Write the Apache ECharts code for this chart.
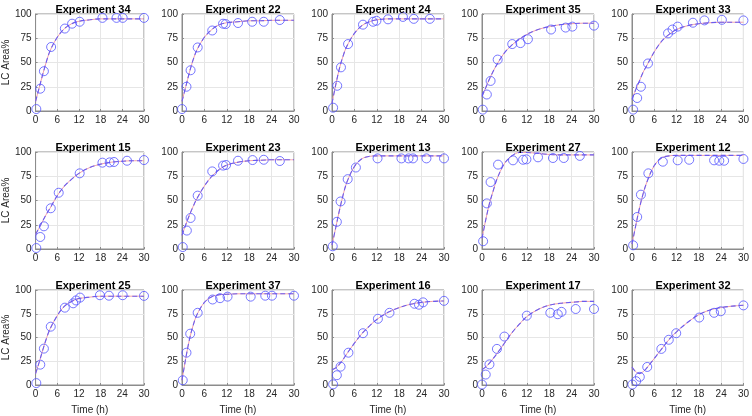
<!DOCTYPE html>
<html><head><meta charset="utf-8">
<script src="https://cdn.jsdelivr.net/npm/echarts@6/dist/echarts.min.js"></script>
<style>html,body{margin:0;padding:0;background:#fff}#c{width:752px;height:416px}</style>
</head><body><div id="c"></div>
<script>
// Experiment titles (row-major order)
const titles = ['Experiment 34','Experiment 22','Experiment 24','Experiment 35','Experiment 33',
                'Experiment 15','Experiment 23','Experiment 13','Experiment 27','Experiment 12',
                'Experiment 25','Experiment 37','Experiment 16','Experiment 17','Experiment 32'];
const xTicks = [0, 6, 12, 18, 24, 30];
const yTicks = [0, 25, 50, 75, 100];
// Times at which the fitted curves are read
const fitTimes = [0,1,2,3,4,6,8,10,12,15,18,21,24,27,30];

// Measured points (time h, LC area %) and fitted curves
const t34 = [0.2,1.3,2.3,4.3,8.1,10.1,12.2,18.5,22.4,24.1,30];
const v34 = [2,23,41,66,85,90,92,96,96,96,96];
const f34 = [10,24,38,51,62,76,85,90,92.5,94,95,95,95,95,95];

const t22 = [0,1.2,2.3,4.2,8.1,11,11.7,15,18.8,21.9,26.2];
const v22 = [2,25,42,65.5,83,90,89.6,90.7,92,92,93.8];
const f22 = [10,25,40,53,63,76,84,89,91,92,93,93,93.5,93.5,93.5];

const t24 = [0.3,1.4,2.4,4.3,8.3,11,11.9,15,19,21.9,26.2];
const v24 = [3.4,26,45,69,89,92,93,94.5,97,95,95];
const f24 = [8,27,44,57,67,80,88,92,94,95,95,95,95,95,95];

const t35 = [0.2,1.3,2.3,4.2,8.1,10.3,12.3,18.5,22.4,24.2,30];
const v35 = [1.4,17,31,53,69,70,74,84,86,87,88];
const f35 = [15,24,33,41,48,60,68,74,79,84,87,89,90,90.5,90.5];

const t33 = [0.3,1.4,2.4,4.3,9.7,10.9,12.3,16.4,19.5,24.2,30];
const v33 = [1.4,13.4,25,49,80,84,87,91,93.4,94,93.4];
const f33 = [12,22,31,40,47,61,72,79,84,88,90,91,91.5,91.5,91.5];

const t15 = [0.2,1.3,2.3,4.2,6.4,12.2,18.5,20.5,21.7,25.3,30];
const v15 = [1,12.4,23.4,42,58,78,89,89.3,89.7,91,91.7];
const f15 = [15,22,29,36,42,55,65,72,78,84,87.5,89.5,90.5,91,91];

const t23 = [0.2,1.3,2.3,4.2,8.1,11,11.8,15,18.9,21.9,26.2];
const v23 = [2,19,32,55,80,86,86.6,91,91.7,92,90.7];
const f23 = [14,25,35,44,52,65,75,82,86.5,89.5,91,91.5,92,92,92];

const t13 = [0.2,1.3,2.3,4.2,6.4,12.2,18.6,20.5,21.7,25.3,30];
const v13 = [2.8,28,49,72,84,93.4,93.4,93.4,93.4,93.4,93.4];
const f13 = [4,22,40,56,69,85,93,95.5,96,96,96,96,96,96,96];

const t27 = [0.3,1.3,2.3,4.3,8.3,11,11.9,15,19,21.9,26.2];
const v27 = [8,47,69,87,91.4,92,92.4,94.5,93.8,93.8,96];
const f27 = [11,30,47,60,72,88,96,99.5,99.5,98.5,97.5,97,97,97,97];

const t12 = [0.3,1.4,2.4,4.4,8.3,12.3,15.4,22.1,23.5,24.8,30];
const v12 = [3.8,33,56,78,90,91.4,92,91.4,91,91,92.8];
const f12 = [5,24,42,57,69,86,94,96,96.5,96.5,96.5,96.5,96.5,96.5,96.5];

const t25 = [0.2,1.3,2.3,4.2,8.1,10.4,11.2,12.3,17.8,20.3,24.1,30];
const v25 = [2,21.4,38.3,61.4,81.4,86,89,92,94.5,94,94.5,93.8];
const f25 = [12,24,37,49,59,73,83,88,91,92.5,93.5,93.5,93.5,93.5,93.5];

const t37 = [0.2,1.2,2.2,4.2,8.2,10.2,12.2,18.4,22.3,24.1,30];
const v37 = [5,34,54,76,90,91.4,93,93,94,94,94];
const f37 = [5,28,48,63,74,87,93,95,95.5,96,96,96,96,96,96];

const t16 = [0.3,1.3,2.3,4.4,8.3,12.3,15.4,22.1,23.3,24.4,30];
const v16 = [0.7,10.3,19.3,34,54.5,69.7,76,85.5,84.5,87,88.6];
const f16 = [16,18,22,27,33,44,54,62,69,76.5,81.5,85,87,88,88.5];

const t17 = [0,1,2,4,6,12,18.3,20.3,21.3,25.1,30];
const v17 = [0.5,11,21.7,38,51,73,76,74.5,77,80,80];
const f17 = [16,19,23,28,33,44,55,64,72,79.5,84,86,87,88,88];

const t32 = [0.1,1.1,2.1,4.1,7.9,9.9,11.9,18.1,22.1,23.9,30];
const v32 = [0.5,4,8.6,19,38,47.6,54.5,71,76,77.6,83.8];
const f32 = [19,14,12,14,18,28,38,48,56,66,74,79,81.5,83,84];

const T = [t34,t22,t24,t35,t33,t15,t23,t13,t27,t12,t25,t37,t16,t17,t32];
const V = [v34,v22,v24,v35,v33,v15,v23,v13,v27,v12,v25,v37,v16,v17,v32];
const F = [f34,f22,f24,f35,f33,f15,f23,f13,f27,f12,f25,f37,f16,f17,f32];

const FONT = '"Liberation Sans", Arial, sans-serif';
const grid = [], xAxis = [], yAxis = [], series = [], title = [];
for (let i = 0; i < 15; i++) {
  const r = Math.floor(i / 5), c = i % 5;
  const left = 32 + 150 * c, top = 14 + 138 * r, w = 112, h = 97;
  grid.push({left: left, top: top, width: w, height: h, show: true, borderColor: '#8c8c8c', borderWidth: 1, backgroundColor: '#fff'});
  title.push({text: titles[i], left: left + w / 2, top: top - 15, textAlign: 'center',
    textStyle: {fontFamily: '"Liberation Sans Narrow", ' + FONT, fontWeight: 'bold', fontSize: 11, color: '#000'}});
  xAxis.push({type: 'value', gridIndex: i, min: xTicks[0], max: xTicks[xTicks.length-1], interval: 6,
    name: r === 2 ? 'Time (h)' : '', nameLocation: 'middle', nameGap: 20,
    nameTextStyle: {fontFamily: FONT, fontSize: 10, color: '#262626'},
    axisLine: {show: true, lineStyle: {color: '#8c8c8c'}},
    axisTick: {show: true, inside: true, length: 2, lineStyle: {color: '#8c8c8c'}},
    axisLabel: {fontFamily: FONT, fontSize: 10, color: '#262626', margin: 4},
    splitLine: {show: true, lineStyle: {color: '#e6e6e6', width: 1}}});
  yAxis.push({type: 'value', gridIndex: i, min: yTicks[0], max: yTicks[yTicks.length-1], interval: 25,
    name: c === 0 ? 'LC Area%' : '', nameLocation: 'middle', nameGap: 22,
    nameTextStyle: {fontFamily: FONT, fontSize: 10, color: '#262626'},
    axisLine: {show: true, lineStyle: {color: '#8c8c8c'}},
    axisTick: {show: true, inside: true, length: 2, lineStyle: {color: '#8c8c8c'}},
    axisLabel: {fontFamily: FONT, fontSize: 10, color: '#262626', margin: 4},
    splitLine: {show: true, lineStyle: {color: '#e6e6e6', width: 1}}});
  const fitData = fitTimes.map((x, k) => [x, F[i][k]]);
  series.push({type: 'line', xAxisIndex: i, yAxisIndex: i, data: fitData, smooth: 0.35, showSymbol: false,
    lineStyle: {color: '#f2a0a8', width: 1}, z: 2, silent: true});
  series.push({type: 'line', xAxisIndex: i, yAxisIndex: i, data: fitData, smooth: 0.35, showSymbol: false,
    lineStyle: {color: '#6b5cf0', width: 1.1, type: [5, 3]}, z: 3, silent: true});
  series.push({type: 'scatter', xAxisIndex: i, yAxisIndex: i, data: T[i].map((x, k) => [x, V[i][k]]),
    symbol: 'circle', symbolSize: 9, z: 4,
    itemStyle: {color: 'rgba(0,0,0,0)', borderColor: '#5555ff', borderWidth: 1}});
}
const chart = echarts.init(document.getElementById('c'), null, {renderer: 'canvas'});
chart.setOption({animation: false, backgroundColor: '#fff', title, grid, xAxis, yAxis, series});
</script></body></html>
